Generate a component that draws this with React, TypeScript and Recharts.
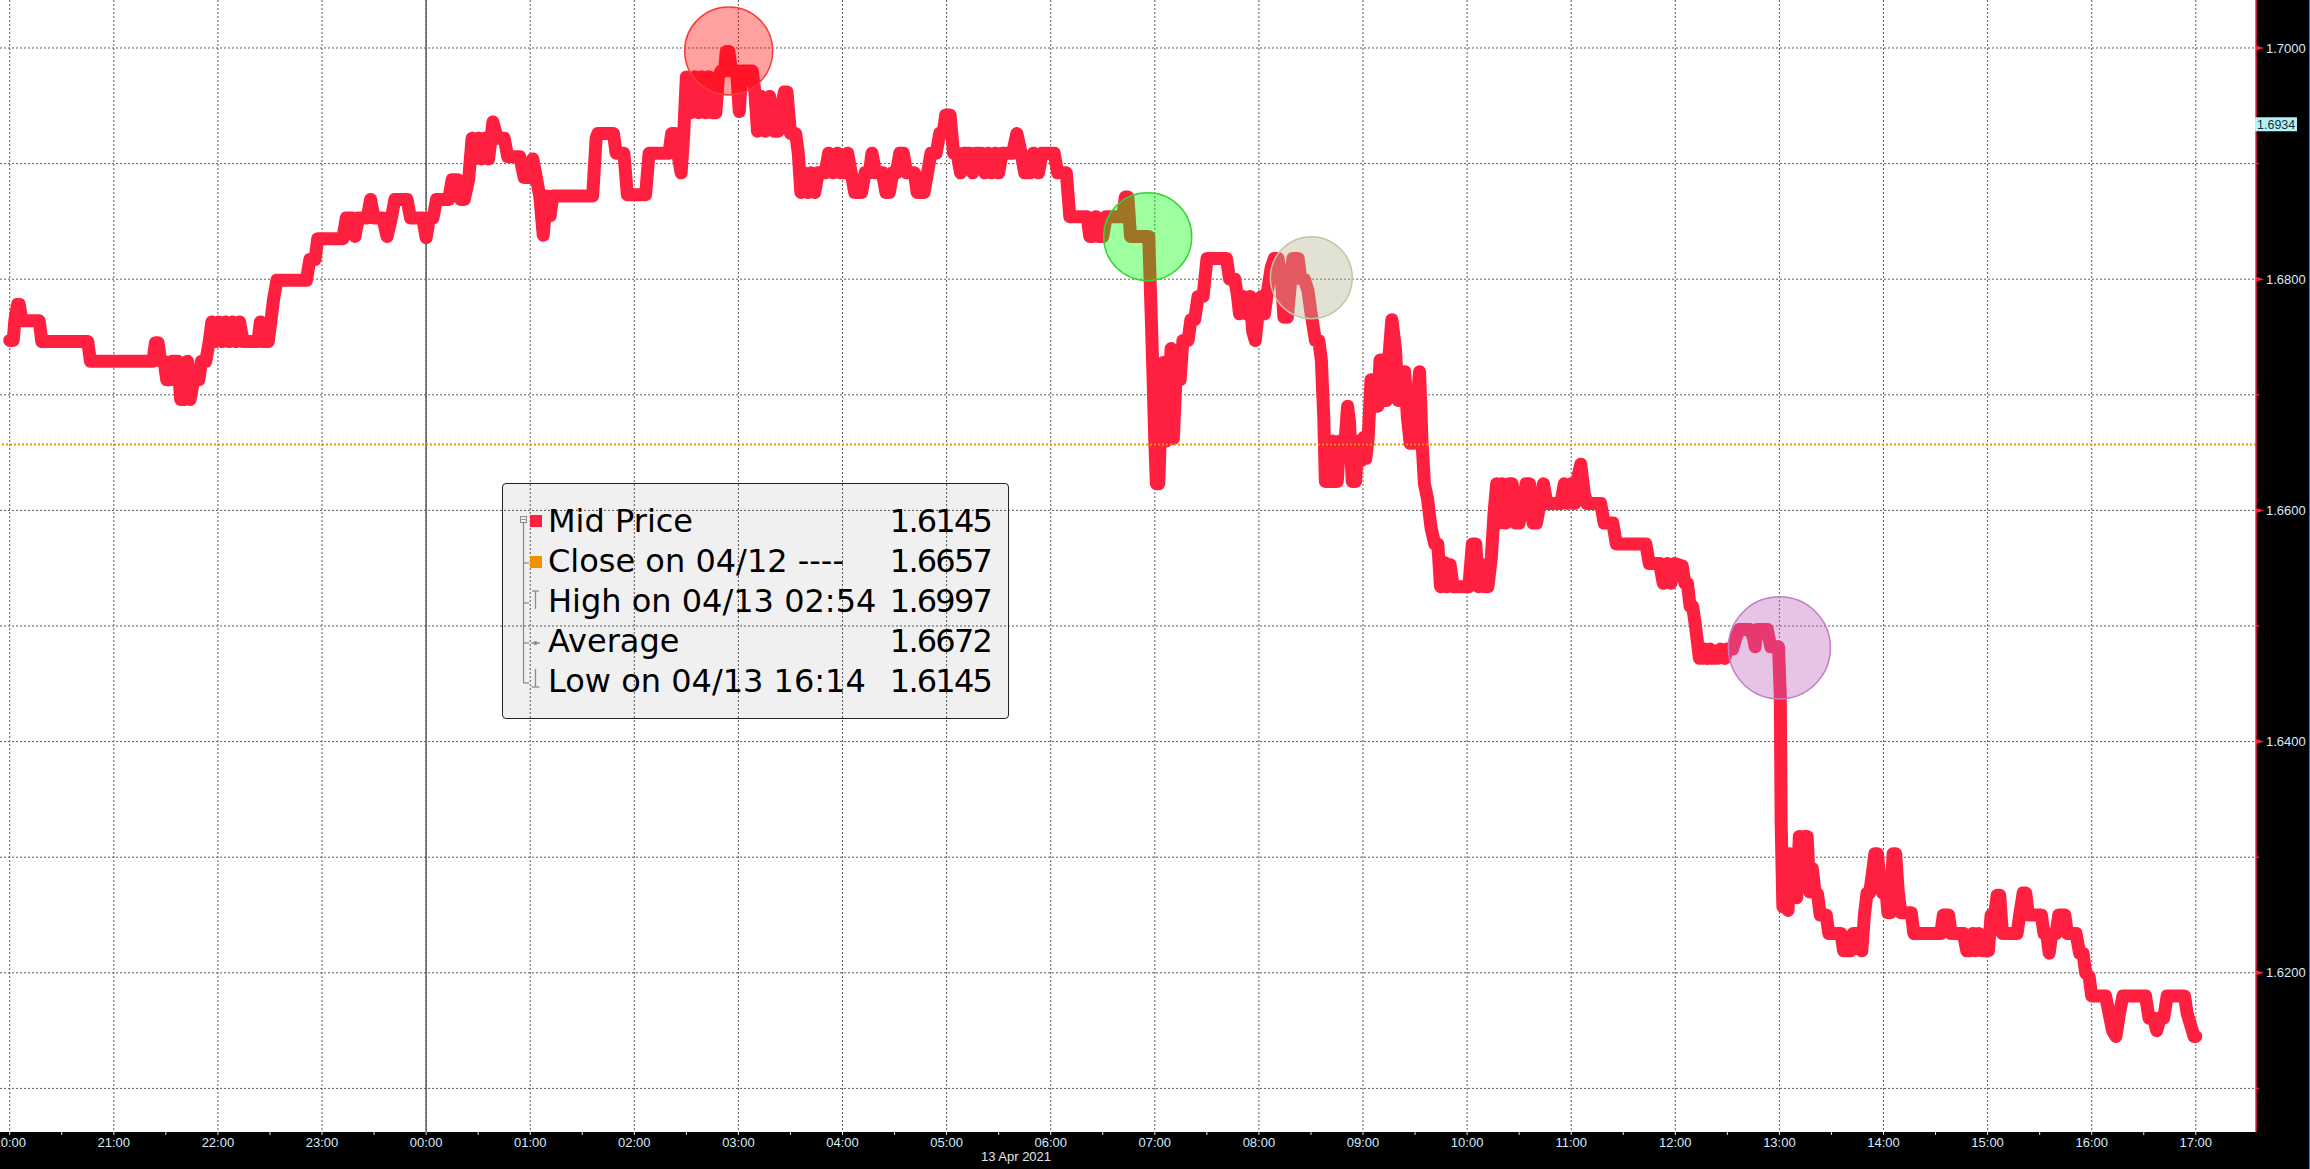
import { CartesianGrid, Line, LineChart, ReferenceDot, ReferenceLine, XAxis, YAxis } from 'recharts';

// Mid price, [minutes after 20:00 on 12 Apr, price], split by session
const EVENING: [number, number][] = [
  [0, 1.6747], [2, 1.6747], [3, 1.6765], [4.5, 1.6778], [5.5, 1.6778], [7, 1.6764], [17, 1.6764],
  [18.5, 1.6746], [45, 1.6746], [46.5, 1.6729], [82.5, 1.6729], [84, 1.6745], [85.5, 1.6745],
  [87, 1.6729], [89, 1.6729], [90.5, 1.6713], [92, 1.6713], [93.5, 1.6729], [97, 1.6729],
  [98.5, 1.6696], [101, 1.6696], [102.5, 1.6729], [104, 1.6696], [106, 1.6713], [109, 1.6713],
  [110.5, 1.6729], [113, 1.6729], [115, 1.6746], [116.5, 1.6763], [118.5, 1.6746], [120.5, 1.6763],
  [122.5, 1.6746], [124.5, 1.6763], [126.5, 1.6746], [128.5, 1.6763], [130.5, 1.6746],
  [132.5, 1.6763], [134.5, 1.6746], [143, 1.6746], [144.5, 1.6763], [146, 1.6746], [149, 1.6746],
  [150.5, 1.6763], [152, 1.6782], [154, 1.6799], [171, 1.6799], [173, 1.6817], [176, 1.6817],
  [177.5, 1.6835], [192, 1.6835], [194, 1.6853], [197, 1.6853], [199, 1.6837], [201, 1.6853],
  [206, 1.6853], [208, 1.6869], [210, 1.6853], [215, 1.6853], [217.5, 1.6837], [220, 1.6853],
  [222, 1.6869], [229, 1.6869], [231, 1.6853], [238, 1.6853],
];

const ASIA: [number, number][] = [
  [240, 1.6836], [242, 1.6853], [244, 1.6853], [246, 1.6869], [253, 1.6869], [255, 1.6886],
  [258, 1.6886], [260, 1.6869], [262, 1.6869], [264.5, 1.6886], [266.5, 1.6922], [268, 1.6904],
  [270, 1.6922], [272, 1.6904], [274, 1.6922], [276, 1.6904], [278.5, 1.6936], [281, 1.6922],
  [285, 1.6922], [287, 1.6906], [294, 1.6906], [296.5, 1.6888], [300, 1.6888], [301.5, 1.6904],
  [303.5, 1.6888], [305.5, 1.6872], [307.5, 1.6838], [309.5, 1.6872], [311.5, 1.6855],
  [313, 1.6872], [336, 1.6872], [338, 1.6922], [339, 1.6926], [348, 1.6926], [349.5, 1.6909],
  [354, 1.6909], [356, 1.6873], [366.5, 1.6873], [368.5, 1.6909], [380, 1.6909], [381.5, 1.6926],
  [383, 1.6926], [385, 1.6909], [387, 1.6892], [388.5, 1.6926], [390, 1.6975], [392.5, 1.6944],
  [395, 1.6975], [397, 1.6944], [399, 1.6975], [401, 1.6944], [403, 1.6975], [405, 1.6944],
  [407, 1.6944], [408.5, 1.6975], [410, 1.698], [412, 1.698], [413, 1.6997], [414.5, 1.6997],
  [416, 1.698], [419, 1.698], [420.5, 1.6945], [422, 1.698], [428, 1.698], [429.5, 1.6962],
  [431, 1.6928], [433, 1.6958], [435.5, 1.6928], [438, 1.6958], [440.5, 1.6928], [443, 1.6928],
  [445, 1.695], [446.5, 1.6962], [448, 1.6962], [450, 1.6926], [453, 1.6926], [454.5, 1.6909],
  [456, 1.6875], [458, 1.6892], [460, 1.6875], [462, 1.6892], [464, 1.6875], [466, 1.6892],
  [470, 1.6892], [472, 1.6909], [474.5, 1.6892], [477, 1.6909], [479, 1.6892], [481, 1.6892],
  [483, 1.6909], [485, 1.6892], [487, 1.6875], [491, 1.6875], [493, 1.6892], [495.5, 1.6892],
  [497, 1.6909], [499, 1.6892], [503, 1.6892], [505, 1.6875], [507, 1.6875], [509, 1.6892],
  [511, 1.6892], [513, 1.6909], [515, 1.6909], [517, 1.6892], [521.5, 1.6892], [523, 1.6875],
  [527, 1.6875], [529, 1.6892], [531, 1.6909], [534, 1.6909], [536, 1.6926], [538, 1.6926],
  [539.5, 1.6942], [542, 1.6942], [544, 1.6909], [546, 1.6909], [548, 1.6892], [550, 1.6909],
  [553, 1.6909], [555, 1.6892], [557, 1.6909], [560, 1.6909], [562, 1.6892], [564, 1.6909],
  [566, 1.6892], [568, 1.6909], [570, 1.6892], [572, 1.6909], [578, 1.6909], [580.5, 1.6926],
  [583, 1.6909], [585, 1.6892], [588, 1.6892], [590, 1.6909], [593, 1.6892], [595, 1.6909],
  [602, 1.6909], [604, 1.6892], [609, 1.6892],
];

const EUROPE: [number, number][] = [
  [611, 1.6854], [621, 1.6854], [622.5, 1.6837], [624.5, 1.6837], [626, 1.6854], [627.5, 1.6837],
  [630, 1.6837], [632, 1.6854], [641.5, 1.6854], [643, 1.6871], [644.5, 1.6871], [646, 1.6837],
  [656.5, 1.6837], [657.9, 1.677], [658.9, 1.672], [660, 1.666], [660.9, 1.6623], [662.3, 1.6623],
  [663.9, 1.67], [664.8, 1.6728], [665.7, 1.67], [666.6, 1.666], [668, 1.67], [669.4, 1.674],
  [670.7, 1.6662], [672.1, 1.6712], [674.6, 1.6713], [676.2, 1.6747], [679.2, 1.6747],
  [680.8, 1.6765], [683, 1.6765], [684.9, 1.6785], [687.8, 1.6785], [690.1, 1.6818],
  [701.3, 1.6818], [703.1, 1.68], [706.1, 1.68], [707.7, 1.6785], [708.8, 1.677], [711.1, 1.6785],
  [712.9, 1.677], [715, 1.6785], [716.4, 1.6755], [717.9, 1.6747], [719.5, 1.677], [721.4, 1.6785],
  [723.2, 1.677], [725, 1.679], [727.1, 1.681], [728.9, 1.6818], [731, 1.6818], [733, 1.68],
  [734.4, 1.6767], [736.4, 1.6767], [737.8, 1.679], [739.6, 1.6818], [742.6, 1.6818], [744.2, 1.68],
  [746.2, 1.68], [748.3, 1.679], [750.1, 1.677], [752.6, 1.6747], [754.5, 1.6747], [756, 1.673],
  [757.4, 1.668], [758.3, 1.6625], [759.7, 1.666], [760.8, 1.6625], [762.4, 1.666], [763.6, 1.6625],
  [765.2, 1.6625], [766.5, 1.666], [769.7, 1.666], [771.1, 1.669], [772.2, 1.6677], [773.8, 1.6625],
  [775.7, 1.6625], [777.3, 1.666], [778.9, 1.6643], [780.3, 1.6663], [781.6, 1.6645], [783, 1.6663],
  [784.6, 1.6713], [787.1, 1.6713], [788.5, 1.669], [789.8, 1.673], [791.9, 1.673], [793.5, 1.6695],
  [794.8, 1.673], [796.6, 1.6765], [798.7, 1.674], [800.3, 1.6695], [802.4, 1.6695], [804, 1.672],
  [805.6, 1.668], [807.2, 1.6658], [809.2, 1.6658], [810.8, 1.669], [812.6, 1.672], [814, 1.666],
  [815.4, 1.6623], [817.2, 1.661], [819.2, 1.6585], [821.3, 1.6571], [823.1, 1.6571],
  [824.7, 1.6534], [826.8, 1.6555], [828.1, 1.6534], [830.2, 1.6553], [832, 1.6534], [841, 1.6534],
  [843, 1.6571], [845, 1.6571], [846.5, 1.6534], [848.5, 1.6553], [850.5, 1.6534], [852, 1.6534],
  [854, 1.656], [855.5, 1.6597], [857, 1.6623], [858.5, 1.6589], [860, 1.6623], [862, 1.6589],
  [864, 1.6623], [866, 1.6623], [868, 1.6589], [870, 1.6589], [872, 1.6606], [874, 1.6623],
  [876, 1.6623], [878, 1.6589], [880, 1.6589], [882, 1.6606], [884, 1.6623], [886, 1.6606],
  [894, 1.6606], [896, 1.6623], [898, 1.6606], [900, 1.6623], [902, 1.6606], [904, 1.663],
  [905.5, 1.664], [907.5, 1.6615], [909, 1.6606], [917, 1.6606], [919, 1.6589], [924, 1.6589],
  [926, 1.6571], [943, 1.6571], [945, 1.6554], [951, 1.6554], [953, 1.6537], [955.5, 1.6554],
  [957.5, 1.6537], [959.5, 1.6554], [964, 1.6552], [965.5, 1.6537], [967, 1.6537],
  [968.5, 1.6517], [970, 1.6517], [971.7, 1.6499], [973.9, 1.6472], [975.5, 1.6472], [977, 1.648],
  [978.5, 1.6472], [980, 1.648], [981.5, 1.6472], [984, 1.6472], [986, 1.648], [988.5, 1.6472],
  [990, 1.648], [993, 1.648], [995, 1.649], [997, 1.6497], [1003, 1.6497], [1005, 1.649],
  [1006, 1.6482], [1007, 1.6497], [1013, 1.6497], [1015, 1.6482], [1019.5, 1.6482],
];

const US: [number, number][] = [
  [1020.5, 1.644], [1021, 1.633], [1022, 1.6257], [1023, 1.629], [1024, 1.6257], [1025, 1.6254],
  [1026, 1.6303], [1027.5, 1.627], [1029, 1.629], [1030, 1.6265], [1031.5, 1.6318], [1033, 1.628],
  [1034.5, 1.6318], [1036, 1.6318], [1037.5, 1.627], [1039, 1.629], [1040.5, 1.627], [1042, 1.6268],
  [1043.5, 1.625], [1047, 1.625], [1048.5, 1.6234], [1055.5, 1.6234], [1057, 1.6219], [1061, 1.6219],
  [1062.5, 1.6234], [1066, 1.6234], [1067.5, 1.6219], [1069, 1.625], [1070.5, 1.6269],
  [1072, 1.6269], [1073.5, 1.6285], [1075, 1.6303], [1076.5, 1.6303], [1078, 1.628],
  [1079.5, 1.6269], [1081, 1.628], [1082.5, 1.6252], [1084, 1.6252], [1085.5, 1.6303],
  [1087, 1.6303], [1088.5, 1.627], [1090, 1.6252], [1096, 1.6252], [1097.5, 1.6234], [1113, 1.6234],
  [1114.5, 1.625], [1117.5, 1.625], [1119, 1.6234], [1126, 1.6234], [1128, 1.6219], [1130, 1.6219],
  [1131.5, 1.6234], [1133, 1.6219], [1135, 1.6234], [1137, 1.6219], [1140.5, 1.6219], [1142, 1.625],
  [1144, 1.625], [1145.5, 1.6267], [1147, 1.6267], [1148.5, 1.6234], [1157, 1.6234],
  [1158.5, 1.625], [1160.5, 1.6269], [1162, 1.6269], [1163.5, 1.625], [1171, 1.625],
  [1172.5, 1.6234], [1174, 1.6234], [1175.5, 1.6217], [1177, 1.6234], [1179.5, 1.6234],
  [1181, 1.625], [1184.5, 1.625], [1186, 1.6234], [1191, 1.6234], [1193, 1.6217], [1195, 1.6217],
  [1196.5, 1.62], [1198.5, 1.6197], [1200, 1.618], [1208, 1.618], [1210, 1.6165], [1212, 1.615],
  [1214, 1.6145], [1216, 1.6165], [1218, 1.618], [1231, 1.618], [1233, 1.6161], [1235.5, 1.6161],
  [1237.5, 1.615], [1239.5, 1.6161], [1241.5, 1.6161], [1243.5, 1.618], [1253.5, 1.618],
  [1255, 1.6165], [1257, 1.6155], [1259, 1.6145], [1260, 1.6145],
];

const HOUR_LABELS = [
  '20:00', '21:00', '22:00', '23:00', '00:00', '01:00', '02:00', '03:00', '04:00', '05:00', '06:00',
  '07:00', '08:00', '09:00', '10:00', '11:00', '12:00', '13:00', '14:00', '15:00', '16:00', '17:00',
];
const DATE_LABEL = '13 Apr 2021';
const DATE_LABEL_AT = 580;
const MIDNIGHT = 240;

const GRID_PRICES = [1.61, 1.62, 1.63, 1.64, 1.65, 1.66, 1.67, 1.68, 1.69, 1.7];
const LABELLED_PRICES = [1.62, 1.64, 1.66, 1.68, 1.7];
const MARKER_PRICE = 1.6934;
const PREV_CLOSE = 1.6657;

// highlighted moments: [minute, price]
const HIGHLIGHTS: [number, number][] = [
  [414.4, 1.69974],
  [655.9, 1.68368],
  [750.2, 1.68013],
  [1020, 1.64811],
];

const LEGEND_NAMES = ['Mid Price', 'Close on 04/12 ----', 'High on 04/13 02:54', 'Average', 'Low on 04/13 16:14'];
const LEGEND_VALUES = ['1.6145', '1.6657', '1.6997', '1.6672', '1.6145'];

const RED = '#ff2040';
const ORANGE = '#f39200';
const AXIS_TEXT = '#d6ebff';
const FONT = '"Liberation Sans", Arial, sans-serif';

const CIRCLE_STYLES = [
  { r: 44, fill: '#ff0000', opacity: 0.37, stroke: '#ff3a3a' },
  { r: 44, fill: '#00ff00', opacity: 0.38, stroke: '#2fd82f' },
  { r: 41, fill: '#b5b591', opacity: 0.39, stroke: '#c4c4a4' },
  { r: 51, fill: '#be64be', opacity: 0.38, stroke: '#c07cc8' },
];

const data = [...EVENING, ...ASIA, ...EUROPE, ...US].map(([t, price]) => ({ t, price }));

const hourTicks = HOUR_LABELS.map((_, i) => i * 60);
const halfTicks = HOUR_LABELS.slice(0, -1).map((_, i) => i * 60 + 30);
const xTicks = [...hourTicks, ...halfTicks, DATE_LABEL_AT].sort((a, b) => a - b);

function TimeTick(props: any) {
  const { x, y, payload } = props;
  const m = payload.value;
  if (m === DATE_LABEL_AT) {
    return (
      <text x={x} y={y + 29} textAnchor="middle" fill="#e4e4e4" fontSize={13} fontFamily={FONT}>
        {DATE_LABEL}
      </text>
    );
  }
  const isHour = m % 60 === 0;
  return (
    <g>
      <line x1={x} x2={x} y1={y} y2={y + 3} stroke="#e8e8e8" />
      {isHour && (
        <text x={x} y={y + 14.6} textAnchor="middle" fill={AXIS_TEXT} fontSize={13} fontFamily={FONT}>
          {HOUR_LABELS[m / 60]}
        </text>
      )}
    </g>
  );
}

function PriceTick(props: any) {
  const { x, y, payload } = props;
  const v = payload.value;
  if (v === MARKER_PRICE) {
    return (
      <g>
        <rect x={x - 1} y={y - 7} width={42} height={14} fill="#b2f3f7" />
        <text x={x + 1} y={y + 4.5} fill="#1c2b33" fontSize={12.5} fontFamily={FONT}>
          {v.toFixed(4)}
        </text>
      </g>
    );
  }
  if (LABELLED_PRICES.includes(v)) {
    return (
      <g>
        <path d={`M${x},${y - 2.5}L${x + 8},${y}L${x},${y + 2.5}Z`} fill={RED} />
        <text x={x + 10} y={y + 4.6} fill={AXIS_TEXT} fontSize={13} fontFamily={FONT}>
          {v.toFixed(4)}
        </text>
      </g>
    );
  }
  return <line x1={x} x2={x + 3} y1={y} y2={y} stroke={RED} strokeWidth={1.5} />;
}

function LegendBox() {
  const grey = '#8c8c8c';
  return (
    <div
      style={{
        position: 'absolute',
        left: 502,
        top: 483,
        width: 507,
        height: 236,
        boxSizing: 'border-box',
        background: 'rgba(0,0,0,0.06)',
        border: '1px solid #222',
        borderRadius: 4,
        fontFamily: '"DejaVu Sans", Verdana, sans-serif',
        fontSize: 32,
        color: '#000',
      }}
    >
      <svg width={507} height={236} style={{ position: 'absolute', left: -1, top: -1 }}>
        <rect x={18.5} y={33.5} width={6} height={6} fill="none" stroke={grey} />
        <line x1={19.5} x2={23.5} y1={36.5} y2={36.5} stroke={grey} />
        <line x1={21.5} x2={21.5} y1={40} y2={200} stroke={grey} strokeWidth={1.3} />
        {[80, 120, 160, 200].map((yy) => (
          <line key={yy} x1={21.5} x2={27} y1={yy} y2={yy} stroke={grey} strokeWidth={1.3} />
        ))}
        <rect x={28} y={32} width={12} height={12} fill={RED} />
        <rect x={28} y={73} width={12} height={12} fill={ORANGE} />
        <line x1={30} x2={37} y1={108} y2={108} stroke={grey} strokeWidth={1.3} />
        <line x1={33.5} x2={33.5} y1={108} y2={126} stroke={grey} strokeWidth={1.3} />
        <line x1={29} x2={38} y1={160} y2={160} stroke={grey} strokeWidth={1.3} />
        <circle cx={33.5} cy={160} r={2} fill={grey} />
        <line x1={33.5} x2={33.5} y1={186} y2={204} stroke={grey} strokeWidth={1.3} />
        <line x1={29.5} x2={37.5} y1={204} y2={204} stroke={grey} strokeWidth={1.3} />
      </svg>
      {LEGEND_NAMES.map((name, i) => (
        <div
          key={name}
          style={{
            position: 'absolute',
            left: 45,
            right: 17,
            top: 17 + i * 40,
            height: 40,
            lineHeight: '40px',
            display: 'flex',
            justifyContent: 'space-between',
            whiteSpace: 'pre',
          }}
        >
          <span>{name}</span>
          <span style={{ letterSpacing: -1.8 }}>{LEGEND_VALUES[i]}</span>
        </div>
      ))}
    </div>
  );
}

export default function App() {
  return (
    <div
      style={{
        position: 'fixed',
        left: 0,
        top: 0,
        width: 2310,
        height: 1169,
        background: '#000',
        overflow: 'hidden',
      }}
    >
      <LineChart width={2310} height={1169} data={data} margin={{ top: 0, right: 0, bottom: 0, left: 0 }}>
        <CartesianGrid
          fill="#ffffff"
          stroke="#5c5c5c"
          strokeDasharray="2 2"
          horizontalValues={GRID_PRICES}
          verticalValues={hourTicks}
        />
        <XAxis
          dataKey="t"
          type="number"
          domain={[-5.6, 1294.7]}
          allowDataOverflow
          ticks={xTicks}
          interval={0}
          height={37}
          axisLine={false}
          tickLine={false}
          tickSize={0}
          tickMargin={0}
          tick={<TimeTick />}
        />
        <YAxis
          orientation="right"
          type="number"
          domain={[1.60623, 1.70415]}
          allowDataOverflow
          ticks={[...GRID_PRICES, MARKER_PRICE]}
          interval={0}
          width={54}
          axisLine={{ stroke: RED, strokeWidth: 1.5 }}
          tickLine={false}
          tickSize={0}
          tickMargin={0}
          tick={<PriceTick />}
        />
        <ReferenceLine x={MIDNIGHT} stroke="#5a5a5a" strokeWidth={1.5} />
        <Line
          type="linear"
          dataKey="price"
          stroke={RED}
          strokeWidth={13}
          strokeLinejoin="round"
          strokeLinecap="round"
          dot={false}
          activeDot={false}
          isAnimationActive={false}
        />
        <ReferenceLine y={PREV_CLOSE} stroke={ORANGE} strokeWidth={2} strokeDasharray="2 2" />
        {HIGHLIGHTS.map(([t, p], i) => (
          <ReferenceDot
            key={i}
            x={t}
            y={p}
            r={CIRCLE_STYLES[i].r}
            fill={CIRCLE_STYLES[i].fill}
            fillOpacity={CIRCLE_STYLES[i].opacity}
            stroke={CIRCLE_STYLES[i].stroke}
            strokeWidth={1.5}
            ifOverflow="visible"
          />
        ))}
      </LineChart>
      <div style={{ position: 'absolute', left: 2309, top: 0, width: 1, height: 1169, background: '#3a7fc0' }} />
      <LegendBox />
    </div>
  );
}
